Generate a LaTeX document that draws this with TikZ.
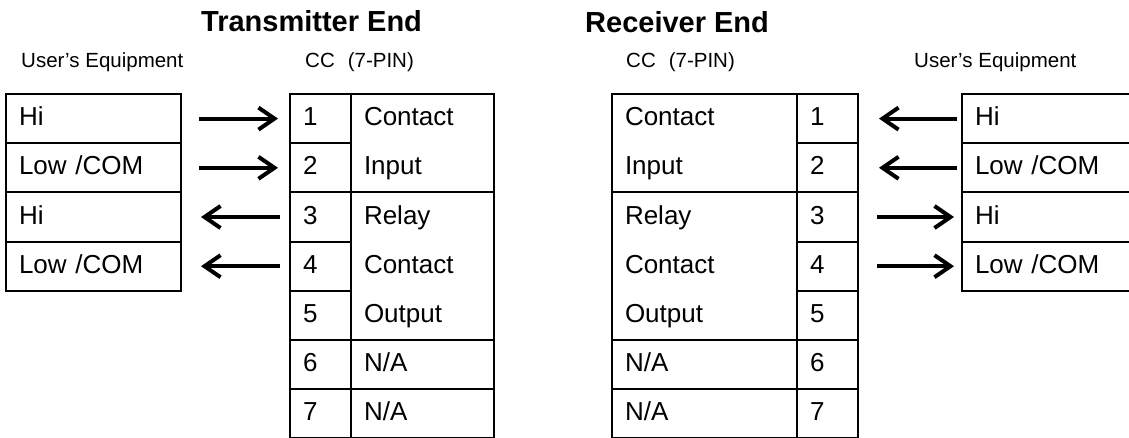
\documentclass[tikz,border=0pt]{standalone}
\usepackage{fontspec}
\setmainfont{Liberation Sans}
\usepackage{tikz}
\usetikzlibrary{positioning,arrows.meta}
\tikzstyle{novertex} = [draw=none, fill=none, inner sep=0pt, anchor=base west]
\tikzstyle{heading}  = [novertex, font=\fontsize{29}{33}\selectfont\bfseries]
\tikzstyle{caption}  = [novertex, font=\fontsize{20.5}{24}\selectfont]
\tikzstyle{cell}     = [draw, line width=2pt, anchor=north west, inner xsep=13pt, inner ysep=0pt,
                        outer sep=0pt, minimum height=49.2pt, text height=14pt, text depth=0pt,
                        align=left, font=\fontsize{26}{30}\selectfont]
\tikzstyle{frame}    = [draw, line width=2pt]
\tikzstyle{signal}   = [draw, line width=4pt, -{Straight Barb[length=16pt, width=22pt]}]

\begin{document}
\begin{tikzpicture}[x=1pt, y=-1pt]
	\useasboundingbox (0,0) rectangle (1129,437);

	% titles
	\node [heading] (H1) at (201,31.7) {Transmitter End};
	\node [heading] (H2) at (585,32)   {Receiver End};
	\node [caption] (L1) at (21,67.5)  {User’s Equipment};
	\node [caption] (L2) at (305,67.5) {CC\hspace{13pt}(7-PIN)};
	\node [caption] (L3) at (626,67.5) {CC\hspace{13pt}(7-PIN)};
	\node [caption] (L4) at (914,67.5) {User’s Equipment};

	% transmitter: user's equipment
	\node [cell, text width=149pt] (U1) at (6,94) {Hi};
	\node [cell, text width=149pt, below=0pt of U1] (U2) {Low /COM};
	\node [cell, text width=149pt, below=0pt of U2] (U3) {Hi};
	\node [cell, text width=149pt, below=0pt of U3] (U4) {Low /COM};

	% transmitter: pins
	\node [cell, text width=35pt] (T1) at (290,94) {1};
	\node [cell, text width=35pt, below=0pt of T1] (T2) {2};
	\node [cell, text width=35pt, below=0pt of T2] (T3) {3};
	\node [cell, text width=35pt, below=0pt of T3] (T4) {4};
	\node [cell, text width=35pt, below=0pt of T4] (T5) {5};
	\node [cell, text width=35pt, below=0pt of T5] (T6) {6};
	\node [cell, text width=35pt, below=0pt of T6] (T7) {7};

	% transmitter: functions
	\node [cell, draw=none, text width=117pt, right=0pt of T1] (D1) {Contact};
	\node [cell, draw=none, text width=117pt, right=0pt of T2] (D2) {Input};
	\node [cell, draw=none, text width=117pt, right=0pt of T3] (D3) {Relay};
	\node [cell, draw=none, text width=117pt, right=0pt of T4] (D4) {Contact};
	\node [cell, draw=none, text width=117pt, right=0pt of T5] (D5) {Output};
	\node [cell, text width=117pt, right=0pt of T6] (D6) {N/A};
	\node [cell, text width=117pt, right=0pt of T7] (D7) {N/A};
	\path [frame] (D1.north west) rectangle (D2.south east);
	\path [frame] (D3.north west) rectangle (D5.south east);

	% receiver: functions
	\node [cell, draw=none, text width=159pt] (E1) at (612,94) {Contact};
	\node [cell, draw=none, text width=159pt, below=0pt of E1] (E2) {Input};
	\node [cell, draw=none, text width=159pt, below=0pt of E2] (E3) {Relay};
	\node [cell, draw=none, text width=159pt, below=0pt of E3] (E4) {Contact};
	\node [cell, draw=none, text width=159pt, below=0pt of E4] (E5) {Output};
	\node [cell, text width=159pt, below=0pt of E5] (E6) {N/A};
	\node [cell, text width=159pt, below=0pt of E6] (E7) {N/A};
	\path [frame] (E1.north west) rectangle (E2.south east);
	\path [frame] (E3.north west) rectangle (E5.south east);

	% receiver: pins
	\node [cell, text width=35pt, right=0pt of E1] (R1) {1};
	\node [cell, text width=35pt, right=0pt of E2] (R2) {2};
	\node [cell, text width=35pt, right=0pt of E3] (R3) {3};
	\node [cell, text width=35pt, right=0pt of E4] (R4) {4};
	\node [cell, text width=35pt, right=0pt of E5] (R5) {5};
	\node [cell, text width=35pt, right=0pt of E6] (R6) {6};
	\node [cell, text width=35pt, right=0pt of E7] (R7) {7};

	% receiver: user's equipment
	\node [cell, text width=149pt] (V1) at (962,94) {Hi};
	\node [cell, text width=149pt, below=0pt of V1] (V2) {Low /COM};
	\node [cell, text width=149pt, below=0pt of V2] (V3) {Hi};
	\node [cell, text width=149pt, below=0pt of V3] (V4) {Low /COM};

	% draw edges
	\path [signal, shorten <=18pt, shorten >=12pt] (U1) -- (T1);
	\path [signal, shorten <=18pt, shorten >=12pt] (U2) -- (T2);
	\path [signal, shorten <=10pt, shorten >=20pt] (T3) -- (U3);
	\path [signal, shorten <=10pt, shorten >=20pt] (T4) -- (U4);
	\path [signal, shorten <=5pt,  shorten >=21pt] (V1) -- (R1);
	\path [signal, shorten <=5pt,  shorten >=21pt] (V2) -- (R2);
	\path [signal, shorten <=19pt, shorten >=8pt]  (R3) -- (V3);
	\path [signal, shorten <=19pt, shorten >=8pt]  (R4) -- (V4);
\end{tikzpicture}
\end{document}
